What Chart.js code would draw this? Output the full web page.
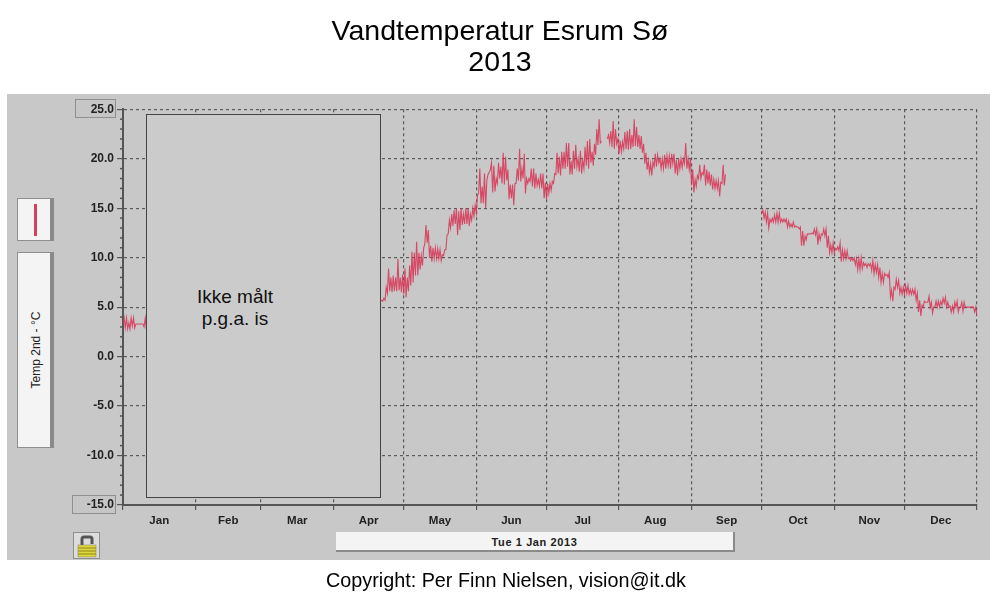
<!DOCTYPE html>
<html>
<head>
<meta charset="utf-8">
<title>Vandtemperatur Esrum Sø 2013</title>
<script src="https://cdn.jsdelivr.net/npm/chart.js@4"></script>
<style>
body { margin: 0; background: #fff; overflow: hidden; font-family: "Liberation Sans", Arial, sans-serif; }
.abs { position: absolute; box-sizing: border-box; }
#panel { left: 7px; top: 94px; width: 983px; height: 466px; background: #c8c8c8; }
#chartWrap { left: 0; top: 0; width: 1000px; height: 596px; }
.valbox { border: 1px solid #8f8f8f; background: #c6c6c6; }
.btn { background: #f4f4f4; border: 1px solid #8f8f8f; border-right: 4px solid #8a8a8a; }
#noData { left: 146px; top: 114px; width: 235px; height: 384px; background: #cbcbcb; border: 1px solid #444; }
#noDataText { left: 170px; top: 286px; width: 130px; text-align: center; font-size: 19px; line-height: 22px; color: #111; }
#legendMark { left: 34px; top: 204px; width: 3px; height: 32px; background: #d4405f; }
#axisName { left: -14px; top: 342px; width: 100px; text-align: center; font-size: 12px; line-height: 16px; color: #222; transform: rotate(-90deg); }
#dateBar { left: 336px; top: 532px; width: 399px; height: 20px; background: #f4f4f4; border-right: 2px solid #8a8a8a; border-bottom: 2px solid #8a8a8a; text-align: center; font-size: 11px; font-weight: bold; line-height: 20px; letter-spacing: 0.6px; color: #222; }
#lock { left: 73px; top: 532px; width: 27px; height: 27px; background: #dcdcdc; border: 1px solid #8f8f8f; }
#copyright { left: 326px; top: 569px; font-size: 19.8px; line-height: 23px; white-space: nowrap; color: #000; }
</style>
</head>
<body>
<div class="abs" id="panel"></div>
<div class="abs valbox" style="left:75px;top:99px;width:41px;height:19px"></div>
<div class="abs valbox" style="left:72px;top:495px;width:44px;height:19px"></div>
<div class="abs" id="chartWrap"><canvas id="chart" width="1000" height="596"></canvas></div>
<div class="abs" id="noData"></div>
<div class="abs" id="noDataText">Ikke målt<br>p.g.a. is</div>
<div class="abs btn" style="left:17px;top:198px;width:37px;height:43px"></div>
<div class="abs" id="legendMark"></div>
<div class="abs btn" style="left:17px;top:252px;width:37px;height:196px"></div>
<div class="abs" id="axisName">Temp 2nd - °C</div>
<div class="abs" id="dateBar">Tue 1 Jan 2013</div>
<div class="abs" id="copyright">Copyright: Per Finn Nielsen, vision@it.dk</div>
<div class="abs" id="lock">
<svg width="25" height="25" viewBox="0 0 25 25">
<path d="M8 14V6q0-2 2-2h6q2 0 2 2v5" fill="none" stroke="#555" stroke-width="3"/>
<rect x="4" y="12" width="18" height="12" fill="#e0d838" stroke="#777" stroke-width="0.5"/>
<path d="M4 15h18M4 18h18M4 21h18" stroke="#8a8620" stroke-width="1"/>
</svg>
</div>

<script>
const monthNames = ['Jan', 'Feb', 'Mar', 'Apr', 'May', 'Jun', 'Jul', 'Aug', 'Sep', 'Oct', 'Nov', 'Dec'];
const monthStarts = [0, 31, 59, 90, 120, 151, 181, 212, 243, 273, 304, 334, 365];
const yMajorTicks = [-15, -10, -5, 0, 5, 10, 15, 20, 25];

// temperatures, low then high for each day
const janStart = 0;
const janTemps = [3.3,3.9, 2.9,3.9, 2.8,3.4, 2.8,3.9, 3.1,3.9, 2.9,3.3, 3.3,3.3, 3.3,3.3, 3.3,3.3, 3.0,3.9, 2.8,3.3];

const springStart = 110;
const springTemps = [
  5.6,5.7, 5.6,5.9, 5.7,7.0, 6.4,8.9, 6.6,8.0, 6.5,8.2, 6.6,8.0, 6.6,9.9, 6.7,8.0, 6.5,8.3,
  6.3,8.9, 6.0,8.0, 6.6,9.2, 7.2,10.6, 7.5,10.5, 8.2,11.6, 8.2,10.5, 8.8,10.2, 9.2,11.0, 11.4,13.3,
  11.5,12.8, 10.0,11.2, 9.6,11.0, 9.9,11.0, 9.9,10.9, 9.9,10.8, 9.7,10.3, 10.2,10.8, 10.8,12.3, 12.4,13.8,
  13.0,14.4, 13.2,14.8, 13.4,15.0, 12.3,14.7, 12.8,15.0, 13.3,14.4, 13.4,15.0, 13.4,15.0, 13.2,14.4, 13.8,15.0,
  14.2,15.3, 14.5,16.3, 16.5,19.0, 15.5,17.2, 15.5,18.5, 15.0,17.8, 18.4,18.6, 18.9,19.6, 16.6,19.3, 16.7,18.0,
  17.5,19.6, 18.0,19.2, 17.5,20.6, 17.4,20.2, 17.8,18.9, 15.9,17.4, 16.0,17.4, 15.3,17.5, 17.5,19.0, 17.8,21.0,
  17.7,19.0, 18.0,20.5, 16.5,18.0, 17.5,18.0, 17.7,19.0, 17.2,19.0, 17.0,18.5, 17.3,17.9, 17.2,18.5, 17.0,18.5,
  16.0,17.6, 15.9,17.5, 16.5,17.5, 16.8,17.7, 17.5,18.5, 18.4,20.6, 18.5,20.2, 18.3,20.7, 19.0,20.7, 19.0,21.6,
  19.2,21.6, 18.4,19.8, 18.4,20.8, 19.0,21.4, 19.2,20.0, 18.7,20.8, 18.5,19.8, 19.0,21.2, 19.3,21.8, 19.0,22.0,
  19.6,20.7, 19.3,21.5, 20.4,23.0, 21.4,24.0, 21.6,21.8
];

const summerStart = 207;
const summerTemps = [
  22.0,22.4, 21.6,22.8, 21.2,23.8, 21.0,23.0, 21.5,22.0, 20.5,21.8, 20.7,21.7, 21.0,22.7, 21.0,22.8, 20.9,23.0,
  21.0,22.4, 21.2,24.0, 21.3,23.2, 21.2,22.4, 21.0,22.3, 20.6,21.5, 19.5,20.6, 18.9,19.8, 18.6,19.5, 18.3,19.7,
  19.2,20.5, 19.2,20.4, 19.6,20.0, 19.0,20.0, 19.0,20.4, 19.0,20.3, 19.3,20.3, 19.0,20.5, 19.5,20.5, 18.5,19.9,
  18.3,20.0, 19.0,20.0, 19.1,20.0, 19.5,21.6, 19.0,20.0, 18.9,20.0, 17.3,18.9, 16.6,17.9, 17.2,18.3, 18.0,19.4,
  18.0,18.6, 18.4,19.4, 17.3,18.9, 17.5,18.7, 17.3,18.4, 16.9,17.9, 17.0,17.8, 17.0,17.8, 16.2,17.6, 17.5,19.4,
  17.3,18.4
];

const autumnStart = 273;
const autumnTemps = [
  14.5,14.8, 14.0,14.6, 13.6,14.5, 13.0,13.9, 13.6,14.0, 13.6,14.3, 13.6,14.5, 13.6,14.5, 13.6,13.9, 13.6,13.9,
  13.6,13.9, 13.1,13.7, 13.1,13.4, 13.1,13.6, 13.1,13.2, 13.1,13.1, 12.9,13.1, 11.2,12.7, 11.2,12.2, 11.8,12.4,
  12.4,12.4, 12.4,12.5, 12.4,12.9, 12.3,12.9, 11.3,12.4, 11.8,12.4, 12.3,12.9, 12.2,12.9, 11.0,12.2, 10.5,11.3,
  10.5,11.5, 10.5,10.9, 10.8,11.1, 10.7,11.5, 9.6,10.8, 9.9,10.7, 9.9,10.7, 9.9,10.0, 9.7,10.0, 9.7,10.0,
  9.3,9.9, 8.8,9.9, 8.8,10.0, 8.9,9.5, 9.2,9.4, 9.0,9.4, 9.2,9.4, 8.7,9.7, 8.4,9.3, 8.5,9.3,
  8.0,9.0, 7.5,8.4, 7.5,8.4, 8.2,8.3, 8.0,8.5, 6.0,6.7, 5.6,7.0, 6.8,7.8, 7.0,7.7, 6.4,7.0,
  6.3,7.0, 6.3,7.2, 6.4,7.2, 6.3,6.8, 6.3,6.8, 6.3,6.8, 5.7,6.4, 4.5,5.7, 4.1,5.2, 5.0,5.6,
  5.5,5.5, 5.5,6.1, 5.0,5.5, 4.4,5.0, 5.0,5.6, 5.0,5.6, 5.0,5.6, 5.2,5.9, 5.4,6.0, 5.0,5.5,
  5.0,5.1, 4.5,5.1, 4.5,5.5, 5.0,5.6, 4.5,5.0, 5.0,5.5, 4.6,5.5, 5.0,5.0, 5.0,5.0, 5.0,5.0,
  5.0,5.0, 4.5,5.0, 4.1,4.6
];

function buildPoints() {
  const points = [];
  const segments = [[janStart, janTemps], [springStart, springTemps], [summerStart, summerTemps], [autumnStart, autumnTemps]];
  segments.forEach(([start, temps]) => {
    temps.forEach((t, i) => points.push({ x: start + i / 2, y: t }));
    points.push({ x: start + temps.length / 2, y: null });
  });
  return points;
}

// month ticks plus a tick in the middle of each month, which only carries the label
const xTicks = [];
monthNames.forEach((m, i) => {
  xTicks.push({ value: monthStarts[i] });
  xTicks.push({ value: (monthStarts[i] + monthStarts[i + 1]) / 2 });
});
xTicks.push({ value: 365 });

const minorTicks = {
  id: 'minorTicks',
  afterDatasetsDraw(chart) {
    const y = chart.scales.y, ctx = chart.ctx;
    ctx.save();
    ctx.strokeStyle = '#555';
    ctx.lineWidth = 1.5;
    for (let v = y.min; v <= y.max; v++) {
      if (yMajorTicks.includes(v)) continue;
      const py = y.getPixelForValue(v);
      ctx.beginPath();
      ctx.moveTo(y.right - 3, py);
      ctx.lineTo(y.right, py);
      ctx.stroke();
    }
    ctx.restore();
  }
};

const isLabelTick = ctx => ctx.index % 2 === 1;

new Chart(document.getElementById('chart'), {
  type: 'line',
  data: {
    datasets: [{
      label: 'Temp 2nd - °C',
      data: buildPoints(),
      borderColor: 'rgba(216,50,84,0.85)',
      borderWidth: 1.1,
      pointRadius: 0,
      tension: 0,
      spanGaps: false
    }]
  },
  options: {
    responsive: false,
    animation: false,
    plugins: {
      legend: { display: false },
      tooltip: { enabled: false },
      title: {
        display: true,
        text: ['Vandtemperatur Esrum Sø', '2013'],
        color: '#000',
        font: { family: 'Liberation Sans', size: 28.5, weight: 'normal', lineHeight: 1.11 },
        padding: { top: 16, bottom: 30 }
      }
    },
    scales: {
      x: {
        type: 'linear',
        min: 0,
        max: 365,
        afterBuildTicks: scale => { scale.ticks = xTicks.map(t => ({ ...t })); },
        afterFit: scale => { scale.height = 91; },
        border: { color: '#555', width: 2, dash: [3, 3] },
        grid: {
          color: ctx => isLabelTick(ctx) ? 'transparent' : '#5a5a5a',
          tickColor: ctx => isLabelTick(ctx) ? 'transparent' : '#555',
          tickLength: 5,
          tickBorderDash: [],
          lineWidth: 1.2
        },
        ticks: {
          autoSkip: false,
          maxRotation: 0,
          padding: 4,
          color: '#222',
          font: { family: 'Liberation Sans', size: 11.5, weight: 'bold' },
          callback: (v, i) => i % 2 === 1 ? monthNames[(i - 1) / 2] : ''
        }
      },
      y: {
        min: -15,
        max: 25,
        afterFit: scale => { scale.width = 123; },
        border: { color: '#555', width: 2, dash: [3, 3] },
        grid: {
          color: '#5a5a5a',
          tickColor: '#555',
          tickLength: 6,
          tickBorderDash: [],
          lineWidth: 1.2
        },
        ticks: {
          stepSize: 5,
          padding: 3,
          color: '#222',
          font: { family: 'Liberation Sans', size: 12, weight: 'bold' },
          callback: v => v.toFixed(1)
        }
      },
      // empty axis, keeps the margin right of the plot without moving the title
      rightMargin: {
        position: 'right',
        afterFit: scale => { scale.width = 23; },
        grid: { display: false },
        border: { display: false },
        ticks: { display: false }
      }
    }
  },
  plugins: [minorTicks]
});
</script>
</body>
</html>
